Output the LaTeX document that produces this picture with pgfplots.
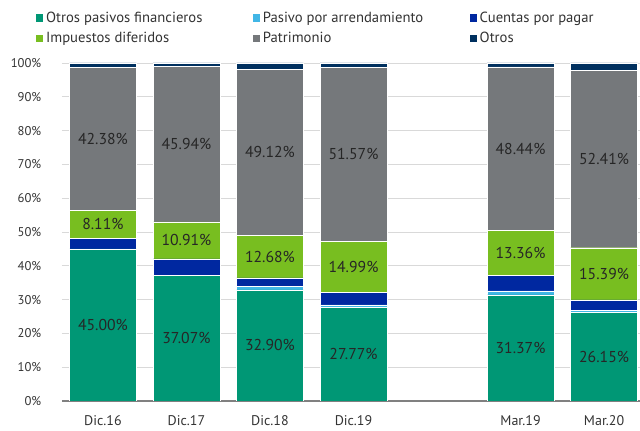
\documentclass[border=0pt]{standalone}
\usepackage{fontspec}
\setmainfont{PT Sans}
\usepackage{pgfplots}
\usepackage{pgfplotstable}
\pgfplotsset{compat=1.18}

\definecolor{opf}{HTML}{009775}
\definecolor{arr}{HTML}{41B6E6}
\definecolor{cxp}{HTML}{0028A0}
\definecolor{imp}{HTML}{78BE20}
\definecolor{pat}{HTML}{75787B}
\definecolor{otr}{HTML}{00305F}

% participacion (%) de cada rubro en el total
\pgfplotstableread{
x opf   arr cxp imp   pat   otr
0 45.00 0.0 3.2 8.11  42.38 1.31
1 37.07 0.0 5.0 10.91 45.94 1.08
2 32.90 1.0 2.5 12.68 49.12 1.80
3 27.77 0.7 3.7 14.99 51.57 1.27
5 31.37 1.2 4.5 13.36 48.44 1.13
6 26.15 0.7 3.1 15.39 52.41 2.25
}\datos

\begin{document}
\begin{tikzpicture}
\begin{axis}[
  scale only axis, width=433.5pt, height=253.5pt,
  ybar stacked, bar width=0.8,
  xmin=-0.49, xmax=6.43, ymin=0, ymax=100,
  xtick={0,1,2,3,5,6},
  xticklabels={Dic.16,Dic.17,Dic.18,Dic.19,Mar.19,Mar.20},
  ytick={0,10,...,100}, yticklabel={\pgfmathprintnumber{\tick}\%},
  /pgf/number format/assume math mode=true,
  ymajorgrids, grid style={black!15, line width=0.6pt},
  axis x line*=bottom, axis y line*=left,
  y axis line style={draw=none}, x axis line style={black!50, line width=0.8pt},
  major tick length=0pt,
  xticklabel style={font=\fontsize{10.5}{12}\selectfont, text=black!80, yshift=-7pt},
  yticklabel style={font=\fontsize{9.5}{11}\selectfont, text=black!80, xshift=-12pt},
  nodes near coords={\pgfmathprintnumber[fixed,fixed zerofill,precision=2]{\pgfplotspointmeta}\%},
  every node near coord/.append style={font=\fontsize{11.8}{13}\selectfont,
    text=black!85, anchor=center},
  legend columns=3,
  legend cell align=left,
  legend style={draw=none, fill=none, at={(0,1)}, anchor=north west,
    xshift=-22.7pt, yshift=42.5pt, row sep=2pt,
    font=\fontsize{11}{13}\selectfont, text=black!80},
  legend image code/.code={\fill[#1,draw=none] (0pt,-2.8pt) rectangle (5.6pt,2.8pt);},
]
\addplot[fill=opf, draw=white, line width=0.3pt, point meta=explicit]
  table[x=x,y=opf,meta=opf]{\datos};
\addlegendentry{\makebox[153pt][l]{Otros pasivos financieros}}
\addplot[fill=arr, draw=white, line width=0.3pt, nodes near coords={}]
  table[x=x,y=arr]{\datos};
\addlegendentry{\makebox[153pt][l]{Pasivo por arrendamiento}}
\addplot[fill=cxp, draw=white, line width=0.3pt, nodes near coords={}]
  table[x=x,y=cxp]{\datos};
\addlegendentry{Cuentas por pagar}
\addplot[fill=imp, draw=white, line width=0.3pt, point meta=explicit]
  table[x=x,y=imp,meta=imp]{\datos};
\addlegendentry{\makebox[153pt][l]{Impuestos diferidos}}
\addplot[fill=pat, draw=white, line width=0.3pt, point meta=explicit]
  table[x=x,y=pat,meta=pat]{\datos};
\addlegendentry{\makebox[153pt][l]{Patrimonio}}
\addplot[fill=otr, draw=white, line width=0.3pt, nodes near coords={}]
  table[x=x,y=otr]{\datos};
\addlegendentry{Otros}
\end{axis}
\pgfresetboundingbox
\path ([shift={(-46.5pt,-22.5pt)}]current axis.south west) rectangle ++(480pt,323.25pt);
\end{tikzpicture}
\end{document}
